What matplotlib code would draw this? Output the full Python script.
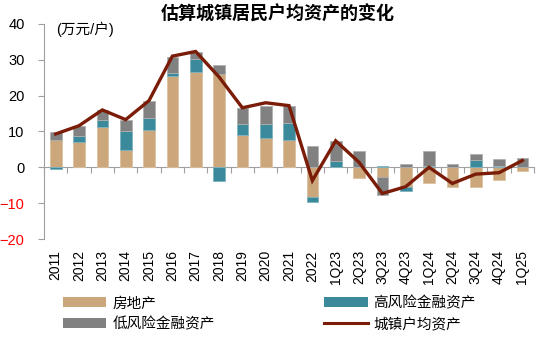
import matplotlib
matplotlib.use("Agg")
import matplotlib.pyplot as plt
from matplotlib.patches import Patch
from matplotlib.lines import Line2D
import numpy as np

plt.rcParams['font.family'] = ['Liberation Sans', 'Noto Sans CJK SC', 'DejaVu Sans']

categories = ['2011', '2012', '2013', '2014', '2015', '2016', '2017', '2018', '2019', '2020',
              '2021', '2022', '1Q23', '2Q23', '3Q23', '4Q23', '1Q24', '2Q24', '3Q24', '4Q24', '1Q25']
real_estate = [7.7, 7.1, 11.2, 4.9, 10.3, 25.4, 26.5, 25.9, 8.9, 8.2, 7.5, -8.2,
               0.0, -3.0, -2.6, -5.6, -4.4, -5.4, -5.6, -3.4, -1.0]
high_risk = [-0.4, 1.5, 1.9, 5.2, 3.5, 0.9, 3.7, -3.7, 3.2, 3.8, 4.8, -1.6,
             1.9, 0.0, 0.3, -1.1, 0.4, 0.0, 2.1, 0.4, 0.0]
low_risk = [2.1, 2.8, 2.9, 3.2, 4.8, 4.5, 1.9, 2.7, 4.4, 5.2, 4.9, 5.9,
            5.5, 4.6, -5.0, 0.9, 4.1, 0.9, 1.6, 1.8, 2.6]
total = [9.3, 11.6, 16.0, 13.3, 18.6, 31.0, 32.3, 25.2, 16.6, 18.0, 17.2, -3.7,
         7.4, 1.4, -7.3, -5.4, 0.0, -4.5, -1.9, -1.5, 1.9]

series = [('房地产', real_estate, '#CBA77B', '#DCC2A0'),
          ('高风险金融资产', high_risk, '#3A8A9C', '#7FB3BF'),
          ('低风险金融资产', low_risk, '#818181', '#B0B0B0')]
line_label = '城镇户均资产'
line_color = '#7A1C07'

fig = plt.figure(figsize=(5.5, 3.41), dpi=100)
ax = fig.add_axes([0.08, 0.299, 0.891, 0.631])

x = np.arange(len(categories))
pos_base = np.zeros(len(x))
neg_base = np.zeros(len(x))
for name, vals, col, ecol in series:
    v = np.array(vals, dtype=float)
    bottoms = np.where(v >= 0, pos_base, neg_base)
    ax.bar(x, v, width=0.5, bottom=bottoms, color=col, edgecolor=ecol, linewidth=0.6, zorder=2)
    pos_base = pos_base + np.where(v >= 0, v, 0)
    neg_base = neg_base + np.where(v < 0, v, 0)

ax.plot(x, total, color=line_color, linewidth=2.4, zorder=3, solid_joinstyle='miter')

ax.set_xlim(-0.5, len(x) - 0.5)
ax.set_ylim(-20, 40)
ax.set_yticks([-20, -10, 0, 10, 20, 30, 40])
ax.tick_params(axis='y', direction='out', length=4, color='#A0A0A0', labelsize=10.5, pad=10)
for t, v in zip(ax.get_yticklabels(), [-20, -10, 0, 10, 20, 30, 40]):
    t.set_color('red' if v < 0 else 'black')

ax.set_xticks(x)
ax.set_xticklabels(categories, rotation=90, fontsize=10)
ax.tick_params(axis='x', length=0, pad=8)

for s in ['top', 'right', 'bottom']:
    ax.spines[s].set_visible(False)
ax.spines['left'].set_color('#A0A0A0')

sec = ax.secondary_xaxis(0, transform=ax.transData)
sec.set_xticks(np.arange(len(x) + 1) - 0.5)
sec.tick_params(axis='x', direction='out', length=4, color='#A0A0A0', labelbottom=False)
sec.spines['bottom'].set_color('#A0A0A0')

ax.text(0.025, 0.975, '(万元/户)', transform=ax.transAxes, fontsize=10.5, va='center', ha='left')

fig.suptitle('估算城镇居民户均资产的变化', x=0.505, y=0.985, fontsize=13, fontweight='bold',
             family=['Noto Sans CJK SC'])

handles = [Patch(facecolor=series[0][2], edgecolor='none'),
           Patch(facecolor=series[2][2], edgecolor='none'),
           Patch(facecolor=series[1][2], edgecolor='none'),
           Line2D([0], [0], color=line_color, linewidth=2.2)]
labels = [series[0][0], series[2][0], series[1][0], line_label]
fig.legend(handles, labels, ncol=2, loc='lower left', bbox_to_anchor=(0.09, -0.01),
           frameon=False, fontsize=10.5, handlelength=3.0, handleheight=0.7,
           columnspacing=7.5, labelspacing=0.45, handletextpad=0.4)

fig.savefig('out.png', dpi=100)
